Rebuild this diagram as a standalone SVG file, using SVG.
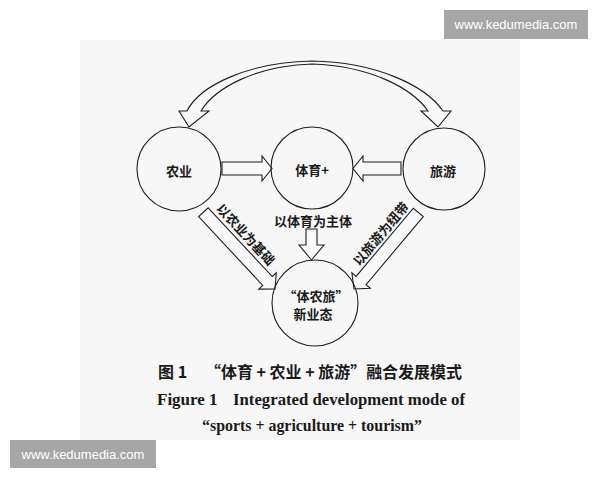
<svg xmlns="http://www.w3.org/2000/svg" width="600" height="480" viewBox="0 0 600 480">
<defs>
<style>
.c{fill:none;stroke:#1e1e1e;stroke-width:1.1}
.a{fill:#f8f8f8;stroke:#1e1e1e;stroke-width:1.1;stroke-linejoin:miter}
.t{font-family:"Noto Sans CJK SC","Noto Sans",sans-serif;font-weight:700;font-size:13px;fill:#1a1a1a;text-anchor:middle}
.cap{font-family:"Noto Sans CJK SC",sans-serif;font-weight:700;font-size:16px;fill:#1a1a1a}
.en{font-family:"Liberation Serif","Times New Roman",serif;font-weight:700;font-size:17px;fill:#1a1a1a}
.wm{fill:#a6a6a6}
.wmt{font-family:"Liberation Sans",Arial,sans-serif;font-size:13px;fill:#ffffff;text-anchor:middle}
</style>
</defs>
<rect x="0" y="0" width="600" height="480" fill="#ffffff"/>
<rect x="80" y="40" width="440" height="400" fill="#f7f7f7"/>

<g id="connectors">
<path class="a" d="M189,127 L179,111 L187,111 C200,85 250,62 312,61 C375,62 425,85 443,111 L451,111 L438,127 L421,111 L428,111 C412,88 370,66 312,64 C255,66 215,88 201,111 L209,111 Z"/>
<polygon class="a" points="222,162 262,162 262,156 272,168.5 262,181 262,175 222,175"/>
<polygon class="a" points="401,162 363,162 363,156 353,168.5 363,181 363,175 401,175"/>
<polygon class="a" points="306,229 317,229 317,245 324,245 311.5,260 299,245 306,245"/>
<polygon class="a" transform="translate(275,289) rotate(47)" points="-105,-6.5 -11,-6.5 -11,-12 0,0 -11,12 -11,6.5 -105,6.5"/>
<polygon class="a" transform="translate(354,289) rotate(130)" points="-100,-6.5 -11,-6.5 -11,-12 0,0 -11,12 -11,6.5 -100,6.5"/>
<text class="t" transform="translate(245.5,234.6) rotate(47)" y="4.5">以农业为基础</text>
<text class="t" transform="translate(381,234) rotate(-50)" y="4.5">以旅游为纽带</text>
<text class="t" x="313" y="226">以体育为主体</text>
</g>

<g id="node-agri">
<circle class="c" cx="179" cy="169" r="42"/>
<text class="t" x="179" y="175.5">农业</text>
</g>
<g id="node-sports">
<circle class="c" cx="312" cy="168" r="41"/>
<text class="t" x="312" y="175">体育+</text>
</g>
<g id="node-tour">
<circle class="c" cx="444" cy="169" r="41"/>
<text class="t" x="443" y="175.5">旅游</text>
</g>
<g id="node-new">
<circle class="c" cx="315" cy="303" r="43"/>
<text class="t" x="316" y="301">“体农旅”</text>
<text class="t" x="313" y="318.5">新业态</text>
</g>

<g id="caption">
<text class="cap" x="158" y="378">图 1</text>
<text class="cap" x="205" y="378" textLength="257" lengthAdjust="spacingAndGlyphs">“体育 + 农业 + 旅游”融合发展模式</text>
<text class="en" x="157" y="405">Figure 1</text>
<text class="en" x="233" y="405" textLength="232" lengthAdjust="spacingAndGlyphs">Integrated development mode of</text>
<text class="en" x="202" y="431" textLength="220" lengthAdjust="spacingAndGlyphs">“sports + agriculture + tourism”</text>
</g>

<g id="watermarks">
<rect class="wm" x="444" y="10" width="144" height="29"/>
<text class="wmt" x="516" y="29">www.kedumedia.com</text>
<rect class="wm" x="10" y="440" width="146" height="28"/>
<text class="wmt" x="83" y="459">www.kedumedia.com</text>
</g>
</svg>
